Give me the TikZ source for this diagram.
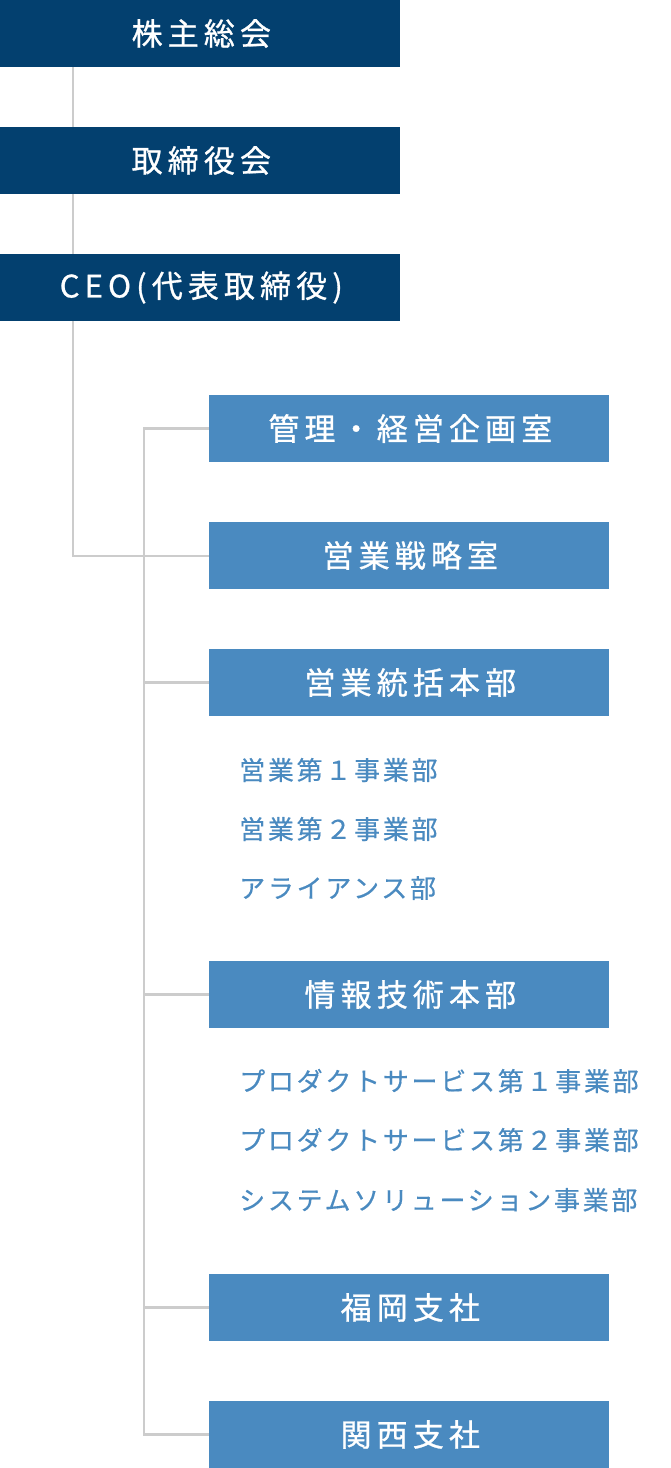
\documentclass[tikz,border=0pt]{standalone}
\usepackage{fontspec}
\newfontfamily\boxfont[LetterSpace=16.5,FakeBold=0.9]{Noto Sans CJK JP}
\newfontfamily\subfont[LetterSpace=10.5,FakeBold=0.5]{Noto Sans CJK JP}
\definecolor{navy}{HTML}{03406F}
\definecolor{lightblue}{HTML}{4A8AC0}
\definecolor{linegray}{HTML}{CCCCCC}
\begin{document}
\begin{tikzpicture}[x=1pt,y=-1pt,
  topbox/.style={fill=navy,draw=none,minimum width=400pt,minimum height=67pt,inner sep=0pt,
    text=white,font=\boxfont\fontsize{31}{34}\selectfont},
  deptbox/.style={fill=lightblue,draw=none,minimum width=400pt,minimum height=67pt,inner sep=0pt,
    text=white,font=\boxfont\fontsize{31}{34}\selectfont},
  subitem/.style={anchor=west,inner sep=0pt,text=lightblue,font=\subfont\fontsize{26}{29}\selectfont},
  conn/.style={draw=linegray,line width=2.5pt}]
\useasboundingbox (0,0) rectangle (670,1468);
\coordinate (trunkA) at (73,556);
\coordinate (trunkBtop) at (144,428.5);
\coordinate (trunkBbot) at (144,1434.5);
\node[topbox] (agm) at (200,33.5) {\kern2.6pt 株主総会};
\node[topbox] (board) at (200,160.5) {\kern2.6pt 取締役会};
\node[topbox] (ceo) at (200,287.5) {\kern2.6pt CEO(代表取締役)};
\node[deptbox] (kanri) at (409,428.5) {\kern2.6pt 管理・経営企画室};
\node[deptbox] (senryaku) at (409,555.5) {\kern2.6pt 営業戦略室};
\node[deptbox] (eigyo) at (409,682.5) {\kern2.6pt 営業統括本部};
\node[deptbox] (joho) at (409,994.5) {\kern2.6pt 情報技術本部};
\node[deptbox] (fukuoka) at (409,1307.5) {\kern2.6pt 福岡支社};
\node[deptbox] (kansai) at (409,1434.5) {\kern2.6pt 関西支社};
\node[subitem] (s1) at (239,770) {営業第１事業部};
\node[subitem] (s2) at (239,829) {営業第２事業部};
\node[subitem] (s3) at (239,888) {アライアンス部};
\node[subitem] (p1) at (239,1081) {プロダクトサービス第１事業部};
\node[subitem] (p2) at (239,1140) {プロダクトサービス第２事業部};
\node[subitem] (p3) at (239,1200) {システムソリューション事業部};
\draw[conn] (agm.south -| trunkA) -- (board.north -| trunkA);
\draw[conn] (board.south -| trunkA) -- (ceo.north -| trunkA);
\draw[conn] (ceo.south -| trunkA) -- (trunkA) -- (senryaku.west |- trunkA);
\draw[conn] (kanri.west) -- (trunkBtop) -- (trunkBbot) -- (kansai.west);
\draw[conn] (eigyo.west -| trunkBtop) -- (eigyo.west);
\draw[conn] (joho.west -| trunkBtop) -- (joho.west);
\draw[conn] (fukuoka.west -| trunkBtop) -- (fukuoka.west);
\end{tikzpicture}
\end{document}
